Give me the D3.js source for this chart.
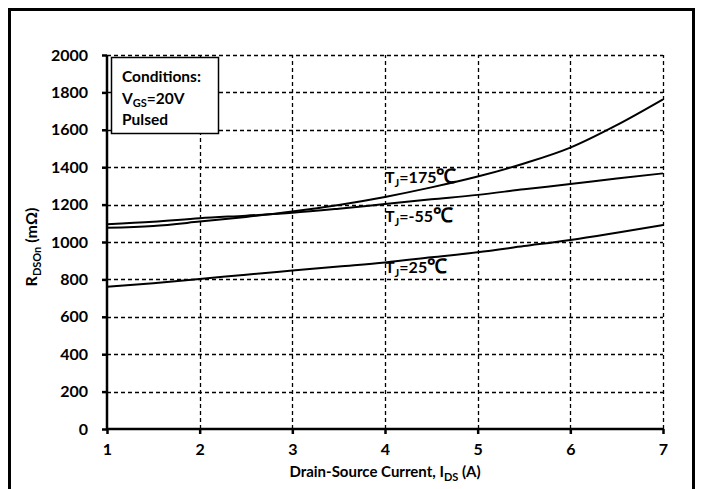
<!DOCTYPE html>
<html>
<head>
<meta charset="utf-8">
<script src="https://cdn.jsdelivr.net/npm/d3@7"></script>
<style>
  html, body { margin: 0; padding: 0; background: #fff; }
  svg { display: block; font-family: Lato, "Open Sans", sans-serif; }
</style>
</head>
<body>
<div id="chart"></div>
<script>
// Rds(on) vs drain current
const currents = [1, 1.5, 2, 2.5, 3, 3.5, 4, 4.5, 5, 5.5, 6, 6.5, 7];
const rdsT175 = [1076, 1086, 1109, 1134, 1163, 1198, 1241, 1292, 1350, 1420, 1505, 1625, 1763];
const rdsTm55 = [1095, 1108, 1127, 1141, 1156, 1178, 1203, 1228, 1252, 1282, 1310, 1340, 1367];
const rdsT25 = [761, 780, 802, 825, 847, 869, 891, 918, 945, 978, 1011, 1050, 1091];

const xTicks = [1, 2, 3, 4, 5, 6, 7];
const yTicks = [0, 200, 400, 600, 800, 1000, 1200, 1400, 1600, 1800, 2000];

const series = [
  { temp: '175', values: rdsT175, labelAt: [4, 1315] },
  { temp: '-55', values: rdsTm55, labelAt: [4, 1107] },
  { temp: '25', values: rdsT25, labelAt: [4, 834] },
];

const width = 704, height = 489;
const margin = { left: 107, right: 41, top: 55, bottom: 60 };

const svg = d3.select('#chart').append('svg')
  .attr('width', width)
  .attr('height', height);

// outer frame (bottom edge runs past the picture)
svg.append('rect')
  .attr('x', 9.5).attr('y', 9.5)
  .attr('width', 684).attr('height', 500)
  .attr('fill', 'none').attr('stroke', '#000').attr('stroke-width', 3);

const x = d3.scaleLinear().domain([1, 7]).range([margin.left, width - margin.right]);
const y = d3.scaleLinear().domain([0, 2000]).range([height - margin.bottom, margin.top]);

// dashed grid
const grid = svg.append('g').attr('stroke', '#000').attr('stroke-width', 1.3).attr('stroke-dasharray', '4,3');
grid.selectAll('.gy').data(yTicks.slice(1)).join('line')
  .attr('x1', x(1)).attr('x2', x(7))
  .attr('y1', d => Math.round(y(d)) + 0.5).attr('y2', d => Math.round(y(d)) + 0.5);
grid.selectAll('.gx').data(xTicks.slice(1)).join('line')
  .attr('y1', y(0)).attr('y2', y(2000))
  .attr('x1', d => Math.round(x(d)) + 0.5).attr('x2', d => Math.round(x(d)) + 0.5);

// axes
const yAxis = svg.append('g')
  .attr('transform', `translate(${x(1)},0)`)
  .call(d3.axisLeft(y).tickValues(yTicks).tickFormat(d3.format('d')).tickSize(5).tickPadding(14));
const xAxis = svg.append('g')
  .attr('transform', `translate(0,${y(0)})`)
  .call(d3.axisBottom(x).tickValues(xTicks).tickFormat(d3.format('d')).tickSize(5).tickPadding(10));

[yAxis, xAxis].forEach(a => {
  a.select('.domain').attr('stroke', '#000').attr('stroke-width', 2.5);
  a.selectAll('.tick line').attr('stroke', '#000').attr('stroke-width', 2.5);
  a.selectAll('.tick text')
    .attr('fill', '#000')
    .attr('font-size', '16px')
    .attr('font-weight', 700)
    .attr('font-family', 'Lato, sans-serif');
});
xAxis.select('.domain').attr('d', `M${x(1)},0H${x(7)}`);
yAxis.select('.domain').attr('d', `M0,${y(0)}V${y(2000)}`);

// curves
const line = d3.line()
  .x((d, i) => x(currents[i]))
  .y(d => y(d))
  .curve(d3.curveMonotoneX);

svg.append('g').selectAll('path').data(series).join('path')
  .attr('d', d => line(d.values))
  .attr('fill', 'none')
  .attr('stroke', '#000')
  .attr('stroke-width', 2);

// curve labels
const lab = svg.append('g').selectAll('text').data(series).join('text')
  .attr('x', d => x(d.labelAt[0]))
  .attr('y', d => y(d.labelAt[1]))
  .attr('font-size', '16px')
  .attr('font-weight', 700)
  .attr('fill', '#000');
lab.append('tspan').text('T');
lab.append('tspan').attr('font-size', '11px').attr('dy', 4).text('J');
lab.append('tspan').attr('dy', -4).text(d => '=' + d.temp);
lab.append('tspan').attr('font-size', '20px').text('℃');

// conditions box
svg.append('rect')
  .attr('x', 111.5).attr('y', 57.5)
  .attr('width', 107).attr('height', 76)
  .attr('fill', '#fff').attr('stroke', '#000').attr('stroke-width', 1.5);
const cond = svg.append('g').attr('font-size', '15.5px').attr('font-weight', 700).attr('fill', '#000');
cond.append('text').attr('x', 122).attr('y', 82).text('Conditions:');
const vgs = cond.append('text').attr('x', 122).attr('y', 104);
vgs.append('tspan').text('V');
vgs.append('tspan').attr('font-size', '11px').attr('dy', 3).text('GS');
vgs.append('tspan').attr('dy', -3).text('=20V');
cond.append('text').attr('x', 122).attr('y', 125).text('Pulsed');

// axis titles
const xt = svg.append('text')
  .attr('x', 385).attr('y', 477)
  .attr('text-anchor', 'middle')
  .attr('font-size', '15px').attr('font-weight', 700).attr('fill', '#000');
xt.append('tspan').text('Drain-Source Current, I');
xt.append('tspan').attr('font-size', '11px').attr('dy', 4).text('DS');
xt.append('tspan').attr('dy', -4).text(' (A)');

const yt = svg.append('text')
  .attr('transform', `translate(37,${(y(0) + y(2000)) / 2 + 5}) rotate(-90)`)
  .attr('text-anchor', 'middle')
  .attr('font-size', '16px').attr('font-weight', 700).attr('fill', '#000');
yt.append('tspan').text('R');
yt.append('tspan').attr('font-size', '11px').attr('dy', 4).text('DSOn');
yt.append('tspan').attr('dy', -4).text(' (mΩ)');
</script>
</body>
</html>
